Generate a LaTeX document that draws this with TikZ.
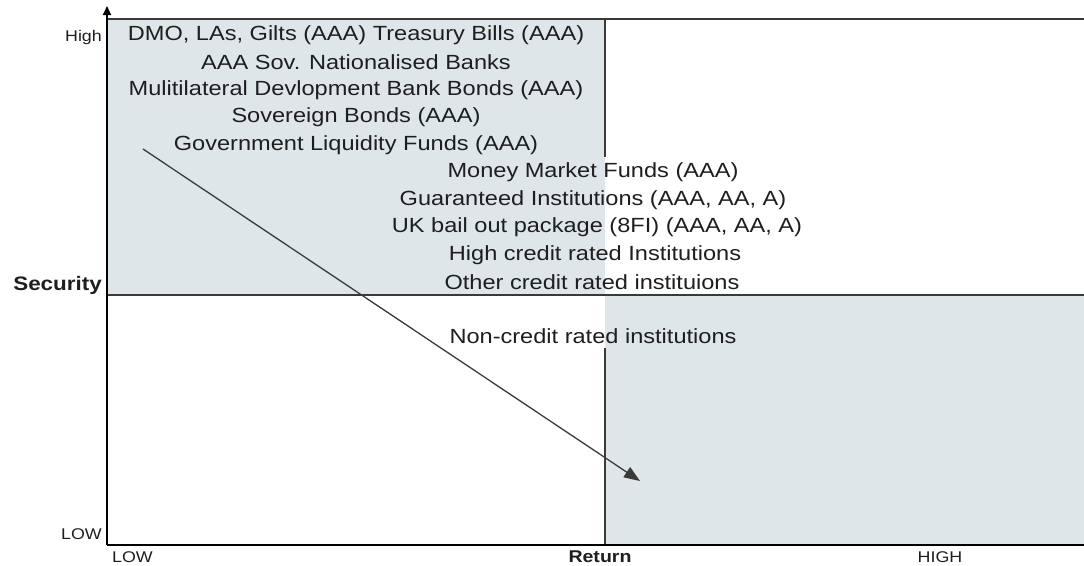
\documentclass[tikz,border=0pt]{standalone}
\usepackage{fontspec}
\setmainfont{Liberation Sans}[FakeStretch=1.15]
\usetikzlibrary{arrows.meta}

\definecolor{quadfill}{HTML}{DFE6EA}
\definecolor{rule}{HTML}{3A3A3A}
\definecolor{ink}{HTML}{1E1E1E}

\tikzset{
    item/.style={inner sep=0pt, text=ink, font=\fontsize{20.5}{22}\selectfont},
    tick/.style={inner sep=0pt, text=ink, font=\fontsize{15.5}{17}\selectfont},
    axisname/.style={inner sep=0pt, text=ink, font=\bfseries\fontsize{17}{19}\selectfont},
    divider/.style={rule, line width=1.5pt},
    axis/.style={black, line width=2pt}
}

\begin{document}
\begin{tikzpicture}[x=1pt,y=-1pt]
        \useasboundingbox (0,0) rectangle (1084,565);

        % quadrants
        \fill [quadfill] (107,19) rectangle (605,295);
        \fill [quadfill] (605,295) rectangle (1084,545);

        \coordinate (o) at (107,545);
        \coordinate (ytop) at (107,6);
        \coordinate (xend) at (1084,545);
        \coordinate (tl) at (107,19);
        \coordinate (tr) at (1084,19);
        \coordinate (ml) at (107,295);
        \coordinate (mr) at (1084,295);
        \coordinate (cut) at (605,19);
        \coordinate (cutend) at (605,157);
        \coordinate (low) at (605,348);
        \coordinate (lowend) at (605,545);

        \draw [divider] (tl) -- (tr);
        \draw [divider] (ml) -- (mr);
        \draw [divider] (cut) -- (cutend);
        \draw [divider] (low) -- (lowend);

        \draw [axis, -{Triangle[length=9pt,width=8pt]}] (o) -- (ytop);
        \draw [axis] (o) -- (xend);

        % security ladder
        \node [item] (dmo) at (356,35) {DMO, LAs, Gilts (AAA) Treasury Bills (AAA)};
        \node [item] (sov) at (356,62.5) {AAA Sov. Nationalised Banks};
        \node [item] (mdb) at (356,90) {Mulitilateral Devlopment Bank Bonds (AAA)};
        \node [item] (sb) at (356,117.5) {Sovereign Bonds (AAA)};
        \node [item] (glf) at (356,145) {Government Liquidity Funds (AAA)};
        \node [item] (mmf) at (593,172.5) {Money Market Funds (AAA)};
        \node [item] (gi) at (593,200) {Guaranteed Institutions (AAA, AA, A)};
        \node [item] (uk) at (597,227.5) {UK bail out package (8FI) (AAA, AA, A)};
        \node [item] (hcr) at (595,255) {High credit rated Institutions};
        \node [item] (ocr) at (592,282.5) {Other credit rated instituions};
        \node [item] (ncr) at (593,336) {Non-credit rated institutions};

        % axis labels
        \node [tick, anchor=east] (yhigh) at (102,37) {High};
        \node [axisname, anchor=east, font=\bfseries\fontsize{19.5}{21}\selectfont] (sec) at (102,285) {Security};
        \node [tick, anchor=east] (ylow) at (102,534) {LOW};
        \node [tick, anchor=west] (xlow) at (112,557) {LOW};
        \node [axisname] (ret) at (600,557) {Return};
        \node [tick] (xhigh) at (940,557) {HIGH};

        \coordinate (from) at (143,149);
        \coordinate (to) at (640,481);
        \draw [rule, line width=1.3pt, -{Triangle[length=16pt,width=12pt]}] (from) -- (to);
    \end{tikzpicture}
\end{document}
